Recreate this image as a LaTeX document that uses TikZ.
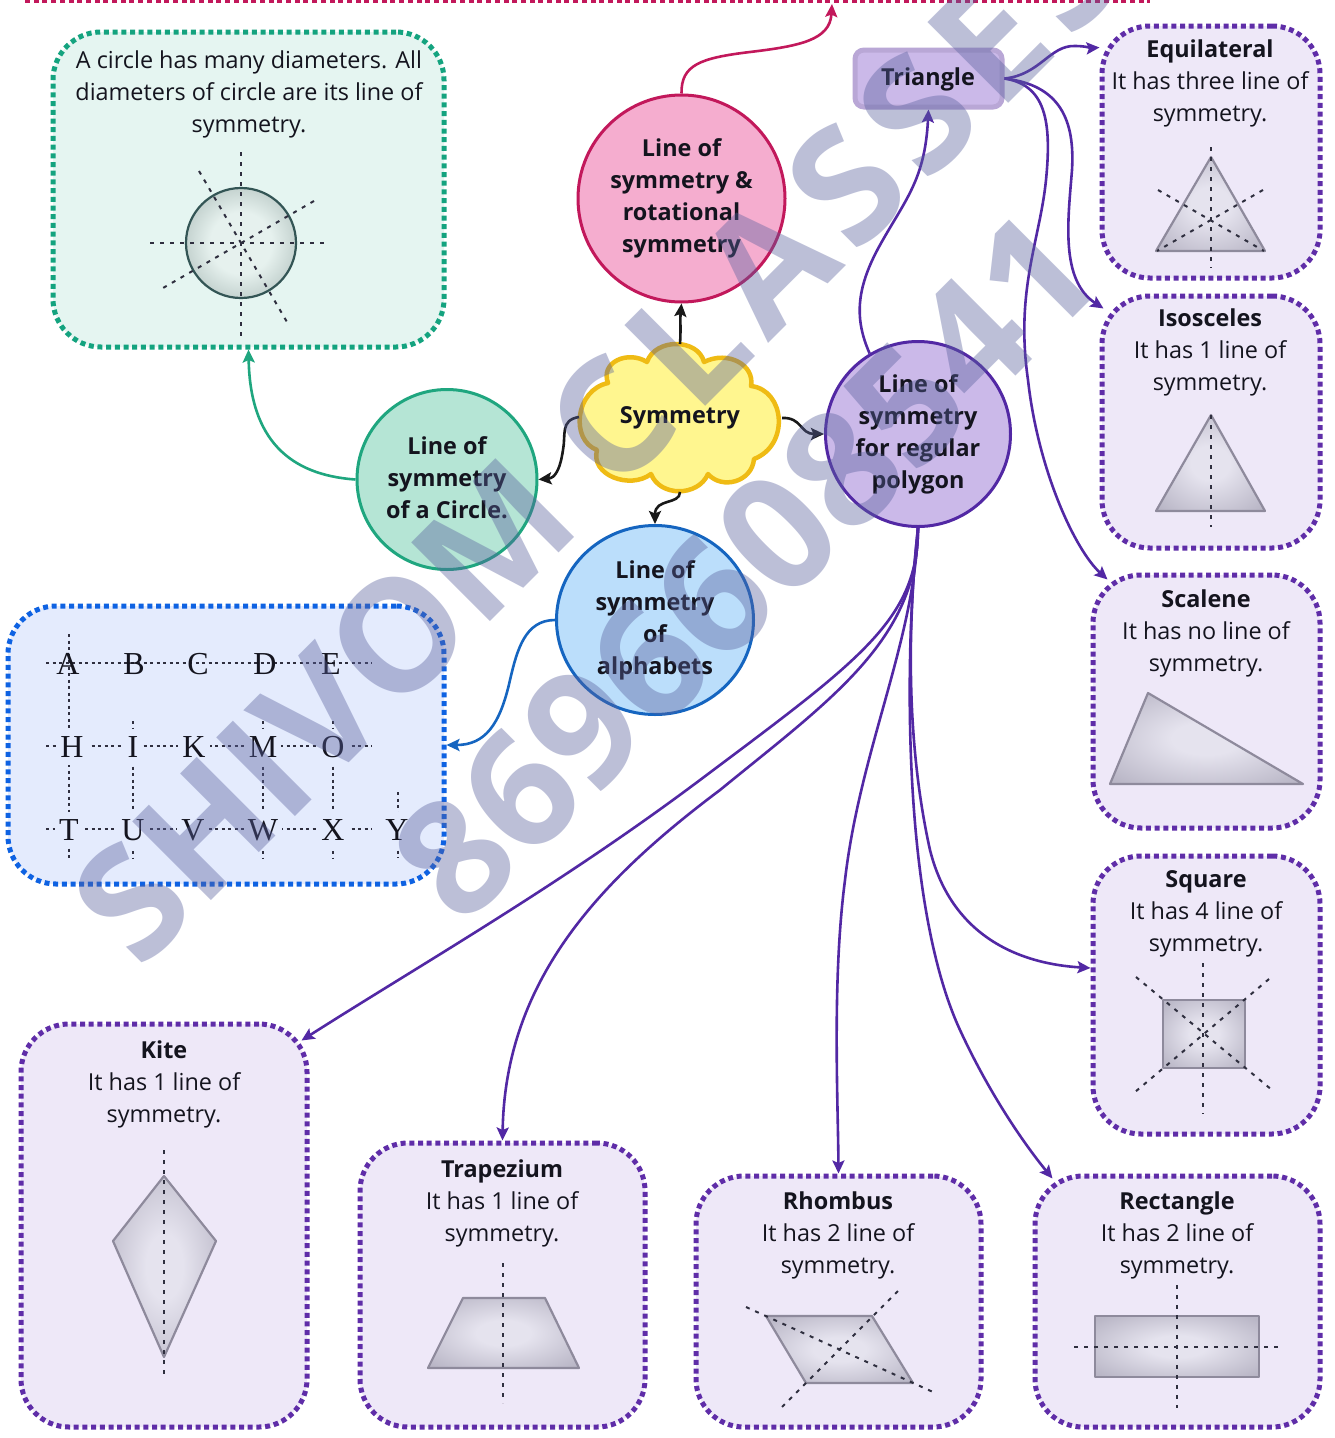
\documentclass[tikz,border=0pt]{standalone}
\usepackage{fontspec}
\setmainfont{Open Sans}
\newfontfamily\lettersf{Liberation Serif}
\usetikzlibrary{arrows.meta,shapes.geometric}
\definecolor{inkc}{HTML}{14141E}
\definecolor{pboxf}{HTML}{EEE8F8}
\definecolor{pboxd}{HTML}{5F2DA8}
\definecolor{tboxf}{HTML}{E5F5F1}
\definecolor{tboxd}{HTML}{14A37F}
\definecolor{bboxf}{HTML}{E4EBFD}
\definecolor{bboxd}{HTML}{0E62E2}
\definecolor{pinkf}{HTML}{F5ADCF}
\definecolor{pinkd}{HTML}{C2185B}
\definecolor{purf}{HTML}{CBB9E9}
\definecolor{purd}{HTML}{5228A4}
\definecolor{tealf}{HTML}{B5E5D5}
\definecolor{teald}{HTML}{1FA67F}
\definecolor{bluef}{HTML}{BBDEFB}
\definecolor{blued}{HTML}{1565C0}
\definecolor{cloudf}{HTML}{FFF68F}
\definecolor{cloudd}{HTML}{EFBB14}
\definecolor{wmark}{HTML}{58609D}
\definecolor{dashc}{HTML}{2F2F3F}
\definecolor{shapein}{HTML}{E5E3EE}
\definecolor{shapeout}{HTML}{B9B6C6}
\definecolor{shapeln}{HTML}{8E8A9C}
\definecolor{triln}{HTML}{B9A7D6}
\definecolor{discin}{HTML}{E6F1EE}
\definecolor{discout}{HTML}{C5D3D0}
\pgfdeclareradialshading{softshape}{\pgfpoint{0bp}{0bp}}{color(0bp)=(shapein); color(9bp)=(shapein); color(33bp)=(shapeout); color(50bp)=(shapeout)}
\pgfdeclareradialshading{softdisc}{\pgfpoint{0bp}{0bp}}{color(0bp)=(discin); color(14bp)=(discin); color(25bp)=(discout); color(50bp)=(discout)}
\tikzset{
  x=1pt,y=-1pt,
  body/.style={font=\fontsize{23.4}{32}\selectfont,text=inkc,align=center,inner sep=0pt},
  heavy/.style={font=\fontsize{23.4}{32}\selectfont\bfseries,text=inkc,align=center,inner sep=0pt},
  dotbox/.style={rectangle,rounded corners=48pt,line width=5pt,dash pattern=on 5pt off 3.7pt,inner sep=0pt},
  purplebox/.style={dotbox,draw=pboxd,fill=pboxf},
  roundnode/.style={circle,line width=3pt,heavy},
  link/.style={line width=2.6pt,-{Stealth[length=13pt,width=12pt,inset=2.5pt]}},
  blk/.style={link,draw=black!90},
  purlink/.style={link,draw=purd},
  symline/.style={draw=dashc,line width=2pt,dash pattern=on 4pt off 6pt},
  letterline/.style={draw=dashc,line width=1.6pt,dash pattern=on 3pt off 3.5pt},
  solid shape/.style={shading=softshape,draw=shapeln,line width=2.2pt,line join=round},
  glyph/.style={font=\lettersf\fontsize{32}{32}\selectfont,text=inkc,inner sep=1pt},
  glyphf/.style={glyph,fill=bboxf,inner xsep=4pt,minimum height=36pt},
  wm/.style={text=wmark,text opacity=.4,rotate=45,inner sep=0pt}
}
% name, x1,y1,x2,y2, text centre x, text top y, title, body line
\newcommand{\infobox}[9]{%
  \node[purplebox,minimum width={(#4-#2)*1pt},minimum height={(#5-#3)*1pt}] (#1) at ({(#2+#4)/2},{(#3+#5)/2}) {};
  \node[body,anchor=north] (#1t) at (#6,#7) {\strut\textbf{#8}\\#9\\symmetry.};
}
\begin{document}
\begin{tikzpicture}
\useasboundingbox (0,0) rectangle (1335,1438);
\clip (0,0) rectangle (1335,1438);
\fill[white] (0,0) rectangle (1335,1438);

% top edge of a box outside the picture
\coordinate (topL) at (25,0.5);
\coordinate (topR) at (1150,0.5);
\coordinate (topA) at (832,4);
\draw[draw=pinkd,line width=5pt,dash pattern=on 5pt off 3.7pt] (topL) -- (topR);

% teal box
\node[dotbox,draw=tboxd,fill=tboxf,minimum width=391pt,minimum height=315pt] (tbox) at (248.5,189.5) {};
\node[body,anchor=north] (tboxt) at (249,46) {\strut A circle has many diameters. All\\diameters of circle are its line of\\symmetry.};
\shadedraw[shading=softdisc,draw=black!55!teal!60!gray,line width=2.2pt] (241,243) circle[radius=55];
\draw[symline] (241,152) -- (241,338);
\draw[symline] (150,243) -- (326,243);
\draw[symline] (199,171) -- (287,322);
\draw[symline] (314,201) -- (163,288);

% blue box
\node[dotbox,draw=bboxd,fill=bboxf,minimum width=436pt,minimum height=278pt] (bbox) at (226,745) {};
\foreach \yy in {663,746,829} \draw[letterline] (46,\yy) -- (372,\yy);
\draw[letterline] (69,634) -- (69,858);
\draw[letterline] (133,721) -- (133,858);
\draw[letterline] (263,721) -- (263,858);
\draw[letterline] (333,721) -- (333,858);
\draw[letterline] (398,792) -- (398,858);
\node[glyph] (lA) at (68,664) {A};
\node[glyph] (lB) at (134,664) {B};
\node[glyph] (lC) at (198,664) {C};
\node[glyph] (lD) at (265,664) {D};
\node[glyph] (lE) at (331,664) {E};
\node[glyphf] (lH) at (72,747) {H};
\node[glyphf] (lI) at (133,747) {I};
\node[glyphf] (lK) at (194,747) {K};
\node[glyphf] (lM) at (263,747) {M};
\node[glyphf] (lO) at (333,747) {O};
\node[glyphf] (lT) at (69,830) {T};
\node[glyphf] (lU) at (133,830) {U};
\node[glyphf] (lV) at (193,830) {V};
\node[glyphf] (lW) at (263,830) {W};
\node[glyphf] (lX) at (333,830) {X};
\node[glyphf] (lY) at (397,830) {Y};

% info boxes
\infobox{equi}{1102}{26}{1320}{278}{1210}{35}{Equilateral}{It has three line of}
\shadedraw[solid shape] (1211,157) -- (1265,251) -- (1156,251) -- cycle;
\draw[symline] (1211,147) -- (1211,268);
\draw[symline] (1158,190) -- (1264,251);
\draw[symline] (1263,190) -- (1157,251);

\infobox{isos}{1102}{296}{1320}{548}{1210}{304}{Isosceles}{It has 1 line of}
\shadedraw[solid shape] (1211,415) -- (1265,511) -- (1156,511) -- cycle;
\draw[symline] (1211,415) -- (1211,527);

\infobox{scal}{1093}{575}{1320}{828}{1206}{585}{Scalene}{It has no line of}
\shadedraw[solid shape] (1148,693) -- (1303,784) -- (1110,784) -- cycle;

\infobox{squa}{1093}{856}{1320}{1134}{1206}{865}{Square}{It has 4 line of}
\shadedraw[solid shape] (1163,1000) rectangle (1245,1068);
\draw[symline] (1203,963) -- (1203,1114);
\draw[symline] (1136,977) -- (1272,1090);
\draw[symline] (1269,979) -- (1135,1092);

\infobox{kite}{21}{1024}{307}{1427}{164}{1036}{Kite}{It has 1 line of}
\shadedraw[solid shape] (164,1176) -- (216,1241) -- (164,1357) -- (113,1241) -- cycle;
\draw[symline] (164,1150) -- (164,1379);

\infobox{trap}{360}{1143}{645}{1427}{502}{1155}{Trapezium}{It has 1 line of}
\shadedraw[solid shape] (463,1298) -- (545,1298) -- (579,1368) -- (428,1368) -- cycle;
\draw[symline] (503,1263) -- (503,1403);

\infobox{rhom}{696}{1176}{981}{1427}{838}{1187}{Rhombus}{It has 2 line of}
\shadedraw[solid shape] (766,1316) -- (872,1316) -- (913,1383) -- (806,1383) -- cycle;
\draw[symline] (746,1307) -- (933,1392);
\draw[symline] (898,1291) -- (778,1411);

\infobox{rect}{1035}{1176}{1320}{1427}{1177}{1187}{Rectangle}{It has 2 line of}
\shadedraw[solid shape] (1095,1316) rectangle (1259,1377);
\draw[symline] (1177,1285) -- (1177,1408);
\draw[symline] (1074,1347) -- (1279,1347);

% main nodes
\node[roundnode,draw=pinkd,fill=pinkf,minimum size=207pt] (pink) at (681.5,198.5) {Line of\\symmetry \&\\rotational\\symmetry};
\node[roundnode,draw=purd,fill=purf,minimum size=185pt] (pur) at (918,434) {Line of\\symmetry\\for regular\\polygon};
\node[roundnode,draw=teald,fill=tealf,minimum size=180pt] (teal) at (447,479.5) {};
\node[heavy] (tealt) at (447,477.5) {Line of\\symmetry\\of a Circle.};
\node[ellipse,line width=3pt,heavy,draw=blued,fill=bluef,minimum width=197pt,minimum height=189pt] (blue) at (655,620) {Line of\\symmetry\\of\\alphabets};
\node[rectangle,rounded corners=9pt,draw=triln,line width=5pt,fill=purf,minimum width=147pt,minimum height=57pt,inner sep=0pt] (tri) at (928.5,78.5) {};
\node[heavy] (trit) at (928,79) {Triangle};

% cloud
\draw[draw=cloudd,fill=cloudf,line width=4.5pt,line join=round]
  (608,383) .. controls (600,362) and (628,350) .. (647,362)
  .. controls (655,338) and (698,338) .. (704,362)
  .. controls (728,350) and (755,365) .. (751,386)
  .. controls (785,390) and (790,445) .. (754,459)
  .. controls (752,482) and (722,490) .. (708,474)
  .. controls (698,497) and (660,497) .. (651,474)
  .. controls (630,490) and (590,475) .. (597,450)
  .. controls (570,440) and (575,390) .. (608,383) -- cycle;
\node[heavy] (sym) at (680,418) {Symmetry};
\coordinate (cN) at (680,344);
\coordinate (cE) at (782,418);
\coordinate (cW) at (579,417);
\coordinate (cS) at (680,492);

% connectors
\draw[link,draw=pinkd] (pink.north) .. controls (681,65) and (700,58) .. (750,52) .. controls (800,46) and (830,40) .. (topA);
\draw[link,draw=teald] (teal.west) .. controls (290,475) and (250,440) .. (tbox.south);
\draw[link,draw=blued] (blue.west) .. controls (525,620) and (517,650) .. (510,680) .. controls (500,725) and (485,745) .. (bbox.east);
\draw[blk] (cN) .. controls (681,330) and (680,320) .. (pink.south);
\draw[blk] (cE) .. controls (802,417) and (800,434) .. (pur.west);
\draw[blk] (cW) .. controls (560,420) and (566,435) .. (563,450) .. controls (560,470) and (555,478) .. (teal.east);
\draw[blk] (cS) .. controls (680,505) and (655,498) .. (blue.north);
\draw[purlink] (pur.121) .. controls (855,320) and (855,290) .. (880,245) .. controls (905,200) and (925,180) .. (tri.south);
\draw[purlink] (tri.east) .. controls (1040,75) and (1050,45) .. (1075,46) .. controls (1085,46) and (1092,48) .. ([yshift=-24pt]equi.north west);
\draw[purlink] (tri.east) .. controls (1060,85) and (1075,120) .. (1072,170) .. controls (1068,220) and (1060,280) .. ([xshift=4pt,yshift=-15pt]isos.north west);
\draw[purlink] (tri.east) .. controls (1045,85) and (1052,120) .. (1046,180) .. controls (1040,240) and (1015,290) .. (1028,380) .. controls (1038,470) and (1075,550) .. ([xshift=17pt,yshift=-7pt]scal.north west);
\draw[purlink] (pur.south) .. controls (918,620) and (860,660) .. (700,780) .. controls (560,885) and (420,965) .. ([xshift=-8pt,yshift=-19pt]kite.north east);
\draw[purlink] (pur.south) .. controls (918,640) and (830,700) .. (720,790) .. controls (600,880) and (505,980) .. (trap.north);
\draw[purlink] (pur.south) .. controls (915,640) and (860,750) .. (845,880) .. controls (832,980) and (838,1100) .. (rhom.north);
\draw[purlink] (pur.south) .. controls (905,640) and (900,900) .. (960,1030) .. controls (990,1095) and (1025,1145) .. ([xshift=20pt,yshift=-5pt]rect.north west);
\draw[purlink] (pur.south) .. controls (905,650) and (910,760) .. (930,850) .. controls (955,950) and (1040,965) .. ([yshift=27pt]squa.west);

% watermark
\node[wm,anchor=base east,font=\fontsize{156}{156}\selectfont\bfseries] (wmA) at (585,527) {SHIVOM};
\node[wm,anchor=base west,font=\fontsize{160}{160}\selectfont\bfseries\addfontfeature{LetterSpace=8}] (wmC) at (614,498) {CLASSES};
\node[wm,font=\fontsize{160}{160}\selectfont\bfseries] (wmB) at (745,566) {8696608541};
\end{tikzpicture}
\end{document}
